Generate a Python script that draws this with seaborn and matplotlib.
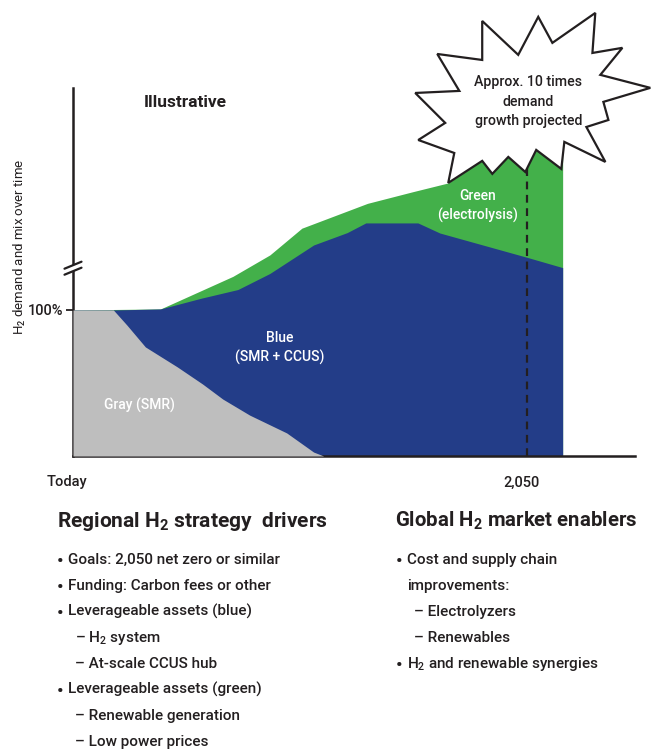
import numpy as np
import matplotlib
matplotlib.use("Agg")
import matplotlib.pyplot as plt
import matplotlib.transforms as mtransforms
import seaborn as sns

# --- data (years, % of today's demand; above the axis break the scale is illustrative) ---
gray_years = [2023.0, 2025.4, 2026.2, 2027.3, 2029.2, 2030.7, 2031.9, 2033.5, 2035.7, 2037.3, 2037.9]
gray_top = [100, 100, 89.7, 74.7, 61, 49.3, 39, 28, 15.8, 2.7, 0]

blue_years = [2023.0, 2025.4, 2028.2, 2030.6, 2032.8, 2034.7, 2037.3, 2039.3, 2040.4, 2043.5, 2044.8, 2050.0, 2052.1]
blue_top = [100, 100, 100.7, 108, 114, 125, 144.5, 153, 159.6, 159.6, 152.7, 136, 129]

green_years = [2023.0, 2028.2, 2032.5, 2034.7, 2036.6, 2040.5, 2043.2, 2045.3, 2047.5, 2050.0, 2052.1]
green_top = [100, 100.7, 123, 137.7, 156, 173, 181, 187, 204, 212, 218]

x_ticks = [2023, 2050]
x_tick_labels = ["Today", "2,050"]
y_ticks = [100]
y_tick_labels = ["100%"]
target_year = 2050
break_level = 128.6

# starburst callout outline (year, %)
burst_x = [2047.32, 2049.46, 2050.65, 2051.49, 2054.04, 2053.87, 2055.65, 2054.34, 2057.31, 2054.52,
           2054.82, 2053.51, 2054.64, 2052.20, 2052.02, 2050.53, 2049.88, 2048.87, 2047.92, 2047.32,
           2045.30, 2045.66, 2043.52, 2045.12, 2043.34, 2045.96, 2044.65, 2047.32]
burst_y = [297.9, 274.7, 300.7, 282.9, 303.4, 276.0, 279.5, 261.0, 252.1, 242.5,
           230.1, 225.3, 201.4, 215.1, 196.6, 209.6, 194.5, 204.8, 193.2, 202.1,
           187.0, 207.5, 216.4, 228.1, 248.6, 250.0, 275.3, 271.2]

regional_drivers = [
    ("b", "Goals: 2,050 net zero or similar"),
    ("b", "Funding: Carbon fees or other"),
    ("b", "Leverageable assets (blue)"),
    ("d", "H$_2$ system"),
    ("d", "At-scale CCUS hub"),
    ("b", "Leverageable assets (green)"),
    ("d", "Renewable generation"),
    ("d", "Low power prices"),
]
global_enablers = [
    ("b", "Cost and supply chain"),
    ("c", "improvements:"),
    ("d", "Electrolyzers"),
    ("d", "Renewables"),
    ("b", "H$_2$ and renewable synergies"),
]

GRAY = "#BEBEBE"
BLUE = "#233D88"
GREEN = "#43B04A"
INK = "#231F20"

sns.set_theme(style="ticks")
plt.rcParams["font.family"] = ["Roboto", "Liberation Sans", "DejaVu Sans"]
plt.rcParams["font.weight"] = "medium"
plt.rcParams["mathtext.fontset"] = "custom"
plt.rcParams["mathtext.rm"] = "Roboto:medium"
plt.rcParams["mathtext.it"] = "Roboto:medium"
plt.rcParams["mathtext.bf"] = "Roboto:bold"
plt.rcParams["text.color"] = INK

W, H = 651, 749
fig = plt.figure(figsize=(W / 100, H / 100), dpi=100)
fig.patch.set_facecolor("white")
ax = fig.add_axes([73 / W, 1 - 456 / H, (635 - 73) / W, (456 - 88) / H])
ax.set_facecolor("white")

# stacked look: total (green) underneath, blue on top of it, gray on top
ax.fill_between(green_years, 0, green_top, color=GREEN, lw=0, zorder=1)
ax.fill_between(blue_years, 0, blue_top, color=BLUE, lw=0, zorder=2)
ax.fill_between(gray_years, 0, gray_top, color=GRAY, lw=0, zorder=3)

ax.vlines(target_year, 0, 215, colors=INK, linestyles=(0, (3.5, 2.5)), lw=1.6, zorder=4)

ax.set_xlim(2023, 2056.4)
ax.set_ylim(0, 252)
sns.despine(ax=ax)
for s in ["left", "bottom"]:
    ax.spines[s].set_linewidth(1.8)
    ax.spines[s].set_color(INK)

ax.set_xticks(x_ticks)
ax.set_xticklabels(x_tick_labels, fontsize=10.5)
ax.tick_params(axis="x", length=0, pad=14, colors=INK)
shift = mtransforms.ScaledTranslation(-6 / 100, 0, fig.dpi_scale_trans)
for lab in ax.get_xticklabels():
    lab.set_transform(lab.get_transform() + shift)
ax.set_yticks(y_ticks)
ax.set_yticklabels(y_tick_labels, fontsize=10.5)
ax.tick_params(axis="y", length=5, width=1.3, pad=2, colors=INK)
ax.set_ylabel("H$_2$ demand and mix over time", fontsize=9.5, color=INK)
ax.yaxis.set_label_coords(-0.08, 0.568)

# axis break marks
px_x = 1 / 16.815
px_y = 1 / 1.46
ax.plot([2023, 2023], [break_level - 3 * px_y, break_level + 3 * px_y], color="white",
        lw=3, clip_on=False, zorder=5, solid_capstyle="butt")
for off in (-3, 3):
    yc = break_level + off * px_y
    ax.plot([2023 - 8.5 * px_x, 2023 + 8.5 * px_x], [yc - 3.5 * px_y, yc + 3.5 * px_y],
            color=INK, lw=1.6, clip_on=False, zorder=6)

# starburst callout
ax.fill(burst_x, burst_y, facecolor="white", edgecolor=INK, lw=1.6, clip_on=False, zorder=7)
ax.text(2050.06, 242.5, "Approx. 10 times\ndemand\ngrowth projected", ha="center", va="center",
        fontsize=10.2, linespacing=1.5, zorder=8, clip_on=False)

# area labels
ax.text(2029.66, 241.8, "Illustrative", ha="center", va="center", fontsize=12.5, fontweight="bold")
ax.text(2047.03, 171.2, "Green\n(electrolysis)", ha="center", va="center", color="white",
        fontsize=10, linespacing=1.45, zorder=5)
ax.text(2035.31, 74.0, "Blue\n(SMR + CCUS)", ha="center", va="center", color="white",
        fontsize=10, linespacing=1.45, zorder=5)
ax.text(2026.93, 34.9, "Gray (SMR)", ha="center", va="center", color="white", fontsize=10, zorder=5)

# text panels below the chart
fig.text(57 / W, 1 - 527 / H, r"Regional H$_\mathbf{2}$ strategy  drivers", fontsize=15,
         fontweight="bold", va="baseline")
fig.text(395 / W, 1 - 527 / H, r"Global H$_\mathbf{2}$ market enablers", fontsize=14.7,
         fontweight="bold", va="baseline")


def draw_list(items, x0, baselines):
    for (kind, label), yb in zip(items, baselines):
        y = 1 - yb / H
        if kind == "b":
            fig.text((x0 - 1) / W, 1 - (yb + 2.5) / H, "\u2022", fontsize=13.5, va="baseline")
            fig.text((x0 + 10) / W, y, label, fontsize=11, va="baseline")
        elif kind == "c":
            fig.text((x0 + 10) / W, y, label, fontsize=11, va="baseline")
        else:
            fig.text((x0 + 17) / W, y, "\u2013 " + label, fontsize=11, va="baseline")


draw_list(regional_drivers, 58, [564, 590, 616, 642, 668, 694, 720, 746])
draw_list(global_enablers, 397, [564, 590, 616, 642, 668])

fig.savefig("out.png", dpi=100, facecolor="white")
